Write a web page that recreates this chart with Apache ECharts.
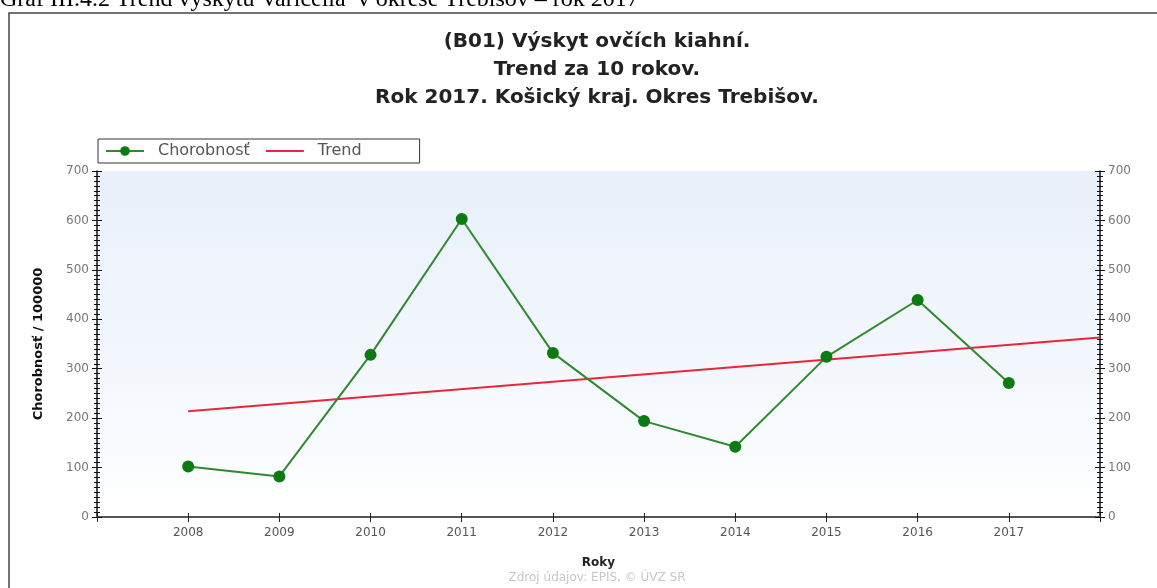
<!DOCTYPE html>
<html>
<head>
<meta charset="utf-8">
<script src="https://cdn.jsdelivr.net/npm/echarts@6/dist/echarts.min.js"></script>
<style>
html,body{margin:0;padding:0;background:#fff;}
#chart{width:1157px;height:588px;}
</style>
</head>
<body>
<div id="chart"></div>
<script>
const caption = 'Graf III.4.2 Trend výskytu Varicella  v okrese Trebišov – rok 2017';
const titleLines = ['(B01) Výskyt ovčích kiahní.', 'Trend za 10 rokov.', 'Rok 2017. Košický kraj. Okres Trebišov.'];
const years = [2008, 2009, 2010, 2011, 2012, 2013, 2014, 2015, 2016, 2017];
const chorobnost = [102, 82, 328, 603, 332, 194, 142, 324, 439, 271];
const trendYears = [2008, 2018];
const trendValues = [214, 363];
const yTicks = [0, 100, 200, 300, 400, 500, 600, 700];
const xMin = 2007, xMax = 2018;
const seriesNames = ['Chorobnosť', 'Trend'];
const yName = 'Chorobnosť / 100000';
const xName = 'Roky';
const source = 'Zdroj údajov: EPIS, © ÚVZ SR';

const chart = echarts.init(document.getElementById('chart'));
const FONT = '"DejaVu Sans", Verdana, sans-serif';
const yMin = yTicks[0], yMax = yTicks[yTicks.length - 1], yInt = yTicks[1] - yTicks[0];

function xAx(extra) {
  return Object.assign({
    type: 'value', min: xMin, max: xMax, interval: 1,
    splitLine: { show: false },
    axisLine: { show: false },
    axisTick: { show: true, length: 4, lineStyle: { color: '#222', width: 1 } },
    axisLabel: { show: false }
  }, extra);
}
function yAx(extra) {
  return Object.assign({
    type: 'value', min: yMin, max: yMax, interval: yInt,
    splitLine: { show: false },
    axisLine: { show: false },
    axisTick: { show: true, length: 5, lineStyle: { color: '#111', width: 1 } },
    minorTick: { show: true, splitNumber: 10, length: 3, lineStyle: { color: '#111', width: 1 } },
    minorSplitLine: { show: false },
    axisLabel: { show: false }
  }, extra);
}

const option = {
  backgroundColor: '#ffffff',
  animation: false,
  textStyle: { fontFamily: FONT },
  legend: {
    left: 98, top: 139,
    orient: 'horizontal',
    padding: [4, 58, 4, 7],
    itemGap: 15,
    itemWidth: 38, itemHeight: 12,
    borderColor: '#333', borderWidth: 1, borderRadius: 0,
    backgroundColor: '#fff',
    textStyle: { fontFamily: FONT, fontSize: 16, color: '#555', padding: [0, 0, 0, 9] },
    data: [
      { name: seriesNames[0] },
      { name: seriesNames[1], itemStyle: { opacity: 0 } }
    ]
  },
  grid: {
    left: 97, right: 57, top: 171, bottom: 71,
    show: true, borderWidth: 0,
    backgroundColor: new echarts.graphic.LinearGradient(0, 0, 0, 1, [
      { offset: 0, color: '#e9f0fb' },
      { offset: 0.6, color: '#f4f8fd' },
      { offset: 1, color: '#ffffff' }
    ])
  },
  xAxis: [
    xAx({
      position: 'bottom',
      axisLine: { show: true, lineStyle: { color: '#555', width: 2 } },
      axisTick: { show: true, length: 4, lineStyle: { color: '#222', width: 1 } },
      axisLabel: {
        show: true, color: '#555', fontSize: 12, margin: 10, fontFamily: FONT,
        formatter: v => (years.indexOf(v) >= 0 ? String(v) : '')
      },
      name: xName, nameLocation: 'middle', nameGap: 40,
      nameTextStyle: { fontFamily: FONT, fontSize: 12, fontWeight: 'bold', color: '#222' }
    }),
    xAx({ position: 'bottom', axisTick: { show: true, inside: true, length: 4, lineStyle: { color: '#222', width: 1 } } }),
    xAx({
      position: 'top',
      axisLine: { show: true, lineStyle: { color: '#555', width: 2 } },
      axisTick: { show: true, inside: true, length: 5, lineStyle: { color: '#222', width: 1 } }
    })
  ],
  yAxis: [
    yAx({
      position: 'left',
      axisLine: { show: true, lineStyle: { color: '#111', width: 1.5 } },
      axisLabel: { show: true, color: '#777', fontSize: 12, margin: 8, fontFamily: FONT },
      name: yName, nameLocation: 'middle', nameGap: 52,
      nameTextStyle: { fontFamily: FONT, fontSize: 13, fontWeight: 'bold', color: '#111' }
    }),
    yAx({ position: 'left', axisTick: { show: true, inside: true, length: 5, lineStyle: { color: '#111', width: 1 } } }),
    yAx({
      position: 'right',
      axisLine: { show: true, lineStyle: { color: '#111', width: 1.5 } },
      axisLabel: { show: true, color: '#777', fontSize: 12, margin: 8, fontFamily: FONT }
    }),
    yAx({ position: 'right', axisTick: { show: true, inside: true, length: 5, lineStyle: { color: '#111', width: 1 } } })
  ],
  series: [
    {
      name: seriesNames[0], type: 'line',
      xAxisIndex: 0, yAxisIndex: 0,
      data: years.map((y, i) => [y, chorobnost[i]]),
      symbol: 'circle', symbolSize: 12,
      lineStyle: { color: '#2f8a2f', width: 2 },
      itemStyle: { color: '#0e7a12', borderWidth: 0 },
      z: 3
    },
    {
      name: seriesNames[1], type: 'line',
      xAxisIndex: 0, yAxisIndex: 0,
      data: trendYears.map((y, i) => [y, trendValues[i]]),
      symbol: 'none',
      lineStyle: { color: '#e8283a', width: 2 },
      itemStyle: { color: '#e8283a' },
      z: 2
    }
  ],
  graphic: [
    {
      type: 'rect', silent: true, z: -1,
      shape: { x: 9, y: 13, width: 1300, height: 700 },
      style: { fill: 'transparent', stroke: '#444', lineWidth: 1.5 }
    },
    {
      type: 'text', left: 0, top: -12, silent: true,
      style: { text: caption, fontFamily: 'Liberation Serif, Times New Roman, serif', fontSize: 24, fill: '#000' }
    },
    {
      type: 'text', x: 597, y: 28, silent: true,
      style: {
        text: titleLines.join('\n'), fontFamily: FONT, fontSize: 20, fontWeight: 'bold',
        fill: '#222', lineHeight: 28, align: 'center', textAlign: 'center', verticalAlign: 'top'
      }
    },
    {
      type: 'text', x: 597, y: 572, silent: true,
      style: { text: source, fontFamily: FONT, fontSize: 12, fill: '#c8c8c8', align: 'center', textAlign: 'center', verticalAlign: 'top' }
    }
  ]
};
chart.setOption(option);
</script>
</body>
</html>
